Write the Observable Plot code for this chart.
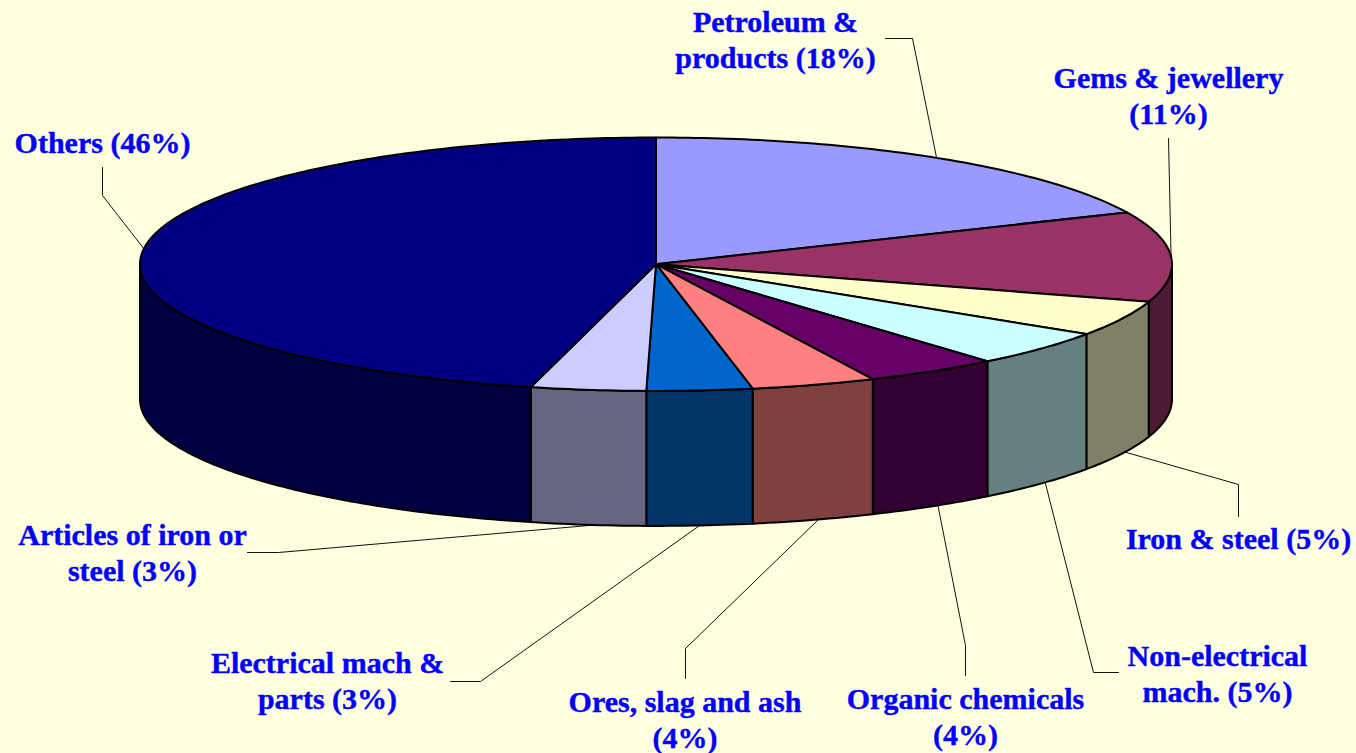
<!DOCTYPE html>
<html>
<head>
<meta charset="utf-8">
<script src="https://cdn.jsdelivr.net/npm/d3@7"></script>
<script src="https://cdn.jsdelivr.net/npm/@observablehq/plot@0.6"></script>
<style>
html,body{margin:0;padding:0;background:#FFFFE0;overflow:hidden}
svg{display:block}
</style>
</head>
<body>
<div id="chart"></div>
<script>
// Chart data
const categories = ["Petroleum & products","Gems & jewellery","Iron & steel","Non-electrical mach.","Organic chemicals","Ores, slag and ash","Electrical mach & parts","Articles of iron or steel","Others"];
const shares = [18.3,11.5,4.5,4.6,4.2,3.9,3.3,3.6,46.1];
const labels = ["Petroleum &\nproducts (18%)","Gems & jewellery\n(11%)","Iron & steel (5%)","Non-electrical\nmach. (5%)","Organic chemicals\n(4%)","Ores, slag and ash\n(4%)","Electrical mach &\nparts (3%)","Articles of iron or\nsteel (3%)","Others (46%)"];
const topColors = ["#9999FF","#993366","#FFFFCC","#CCFFFF","#660066","#FF8080","#0066CC","#CCCCFF","#000080"];
const sideColors = ["#4D4D80","#4D1A33","#808066","#668080","#330033","#804040","#003366","#666680","#000040"];

// Layout (separate from the data)
const W = 1356, H = 753;
const cx = 655.5, cy = 263.7, rx = 516, ry = 126.7, depth = 135;
const labelPos = [[775,38],[1168,94],[1238,537],[1217,672],[965,715],[684.5,718],[327,679],[132,551],[102,141]];
const leaderShift = [0,0,-0.2,-0.2,-0.2,-0.15,0,-0.2,0];
const leaderRoute = [
  [[912,38],[885,38]],
  [[1168,138]],
  [[1238,484],[1238,516]],
  [[1093,672],[1118,672]],
  [[965,645],[965,675]],
  [[685,648],[685,678]],
  [[480,681],[450,681]],
  [[278,552],[247,552]],
  [[102,195],[102,167]]
];

const pt = (pct, drop = 0) => {
  const a = pct / 100 * 2 * Math.PI;
  return {x: cx + rx * Math.sin(a), y: cy - ry * Math.cos(a) + drop};
};
const arc = (p0, p1, drop = 0) => {
  const n = Math.max(2, Math.ceil(Math.abs(p1 - p0) * 4));
  return d3.range(n + 1).map(i => pt(p0 + (p1 - p0) * i / n, drop));
};

const total = d3.sum(shares);
const edges = [0, ...d3.cumsum(shares)].map(v => v / total * 100);

const rows = categories.map((name, i) => ({name, i, start: edges[i], end: edges[i + 1], mid: (edges[i] + edges[i + 1]) / 2}));

const topFaces = rows.flatMap(r => [{x: cx, y: cy}, ...arc(r.start, r.end), {x: cx, y: cy}]
  .map(p => ({...p, z: r.name, color: topColors[r.i]})));

const sideFaces = rows.filter(r => r.end > 25 && r.start < 75).flatMap(r => {
  const a = Math.max(r.start, 25), b = Math.min(r.end, 75);
  return [...arc(a, b), ...arc(b, a, depth), pt(a)].map(p => ({...p, z: r.name, color: sideColors[r.i]}));
});

// Upper slices lead from the rim; lower ones from the bottom edge of the wall
const leaders = rows.flatMap(r => {
  const lower = r.mid > 25 && r.mid < 75;
  return [pt(r.mid + leaderShift[r.i], lower ? depth : 0), ...leaderRoute[r.i].map(([x, y]) => ({x, y}))]
    .map(p => ({...p, z: r.name}));
});

const labelRows = labels.map((text, i) => ({text, x: labelPos[i][0], y: labelPos[i][1]}));

const chart = Plot.plot({
  width: W, height: H, margin: 0,
  style: {background: "#FFFFE0"},
  x: {domain: [0, W], range: [0, W], axis: null},
  y: {domain: [0, H], range: [0, H], axis: null},
  color: {type: "identity"},
  marks: [
    Plot.line(leaders, {x: "x", y: "y", z: "z", stroke: "#111", strokeWidth: 1, curve: "linear"}),
    Plot.line(sideFaces, {x: "x", y: "y", z: "z", fill: "color", stroke: "#000", strokeWidth: 2, curve: "linear"}),
    Plot.line(topFaces, {x: "x", y: "y", z: "z", fill: "color", stroke: "#000", strokeWidth: 2, curve: "linear"}),
    Plot.text(labelRows, {x: "x", y: "y", text: "text", fill: "#0000FF", stroke: "#0000FF", strokeWidth: 0.4, fontFamily: "Liberation Serif", fontWeight: "bold", fontSize: 30, lineHeight: 1.2, textAnchor: "middle"})
  ]
});
document.getElementById("chart").appendChild(chart);
</script>
</body>
</html>
